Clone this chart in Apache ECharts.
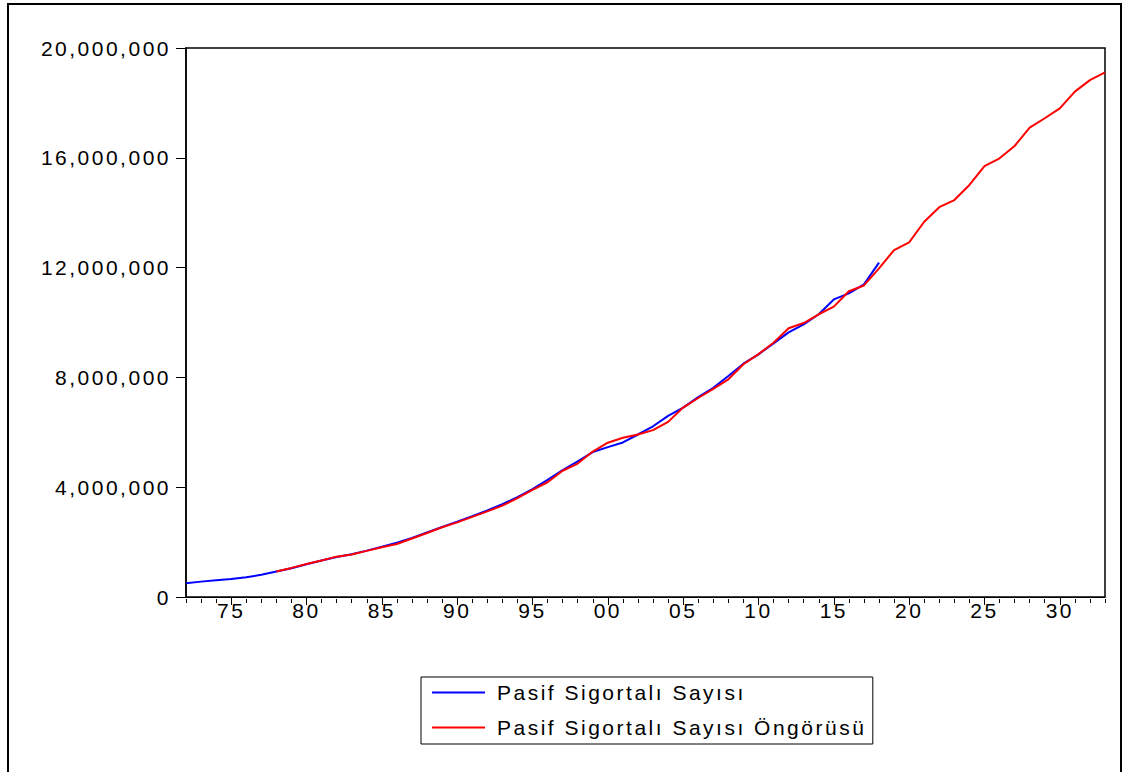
<!DOCTYPE html>
<html>
<head>
<meta charset="utf-8">
<script src="https://cdn.jsdelivr.net/npm/echarts@6/dist/echarts.min.js"></script>
<style>
html,body{margin:0;padding:0;background:#fff;}
#chart{width:1128px;height:772px;}
#chart svg text{letter-spacing:2.5px;}
</style>
</head>
<body>
<div id="chart"></div>
<script>
// Years on the x axis
const years = [];
for (let y = 1972; y <= 2033; y++) years.push(String(y));

// Pasif Sigortalı Sayısı (actual), 1972-2018
const actualStart = 1972;
const actualValues = [
  500000, 560000, 610000, 660000, 720000, 810000, 930000, 1050000, 1190000, 1330000,
  1460000, 1560000, 1690000, 1830000, 1980000, 2150000, 2350000, 2550000, 2740000, 2940000,
  3150000, 3380000, 3640000, 3930000, 4270000, 4620000, 4940000, 5280000, 5460000, 5630000,
  5920000, 6220000, 6600000, 6900000, 7280000, 7620000, 8050000, 8500000, 8840000, 9240000,
  9640000, 9930000, 10300000, 10840000, 11060000, 11390000, 12180000
];

// Pasif Sigortalı Sayısı Öngörüsü (forecast), 1978-2033
const forecastStart = 1978;
const forecastValues = [
  930000, 1060000, 1200000, 1330000, 1470000, 1550000, 1680000, 1810000, 1930000, 2130000,
  2330000, 2540000, 2720000, 2920000, 3120000, 3330000, 3600000, 3900000, 4180000, 4600000,
  4860000, 5300000, 5620000, 5800000, 5920000, 6080000, 6380000, 6900000, 7250000, 7580000,
  7930000, 8480000, 8850000, 9260000, 9790000, 9980000, 10300000, 10580000, 11140000, 11350000,
  11970000, 12640000, 12920000, 13670000, 14200000, 14460000, 15010000, 15700000, 15980000, 16430000,
  17100000, 17440000, 17800000, 18410000, 18830000, 19110000
];

const seriesNames = ['Pasif Sigortalı Sayısı', 'Pasif Sigortalı Sayısı Öngörüsü'];
const yTicks = [0, 4000000, 8000000, 12000000, 16000000, 20000000];

function pad(start, vals) {
  return years.map(y => {
    const i = Number(y) - start;
    return (i >= 0 && i < vals.length) ? vals[i] : null;
  });
}

const FONT = 'Liberation Sans';
const FS = 21;
const chart = echarts.init(document.getElementById('chart'), null, { renderer: 'svg' });
chart.setOption({
  animation: false,
  backgroundColor: '#ffffff',
  textStyle: { fontFamily: FONT },
  grid: {
    left: 186, top: 48, width: 919, height: 549,
    show: true, borderColor: '#000', borderWidth: 1.5, backgroundColor: 'transparent'
  },
  graphic: [{
    type: 'rect', silent: true, z: -1,
    shape: { x: 8, y: 4, width: 1113, height: 790 },
    style: { fill: 'none', stroke: '#000', lineWidth: 2 }
  }],
  xAxis: [{
    type: 'category', data: years, boundaryGap: false,
    offset: 2,
    axisLine: { show: true, lineStyle: { color: '#000', width: 1 } },
    axisTick: { show: true, inside: false, length: 8, interval: (i, v) => Number(v) % 5 === 0, lineStyle: { color: '#000' } },
    axisLabel: { show: true, interval: (i, v) => Number(v) % 5 === 0, formatter: v => v.slice(2), color: '#000', fontSize: FS, fontFamily: FONT, margin: 1 },
    splitLine: { show: false }
  }, {
    type: 'category', data: years, boundaryGap: false, position: 'bottom',
    offset: 2,
    axisLine: { show: false },
    axisTick: { show: true, inside: false, length: 4, interval: 0, lineStyle: { color: '#000' } },
    axisLabel: { show: false },
    splitLine: { show: false }
  }],
  yAxis: {
    type: 'value', min: 0, max: 20000000, interval: 4000000,
    axisLine: { show: true, lineStyle: { color: '#000', width: 1.5 } },
    axisTick: { show: true, inside: false, length: 10, lineStyle: { color: '#000' } },
    axisLabel: { color: '#000', fontSize: FS, fontFamily: FONT, margin: 15,
      formatter: v => yTicks.indexOf(v) >= 0 ? v.toLocaleString('en-US') : '' },
    splitLine: { show: false }
  },
  legend: {
    orient: 'vertical', left: 421, top: 677,
    data: seriesNames,
    icon: 'path://M0,0H100V4H0Z',
    backgroundColor: '#fff', borderColor: '#000', borderWidth: 1,
    padding: [5, 84, 6, 11],
    itemWidth: 53, itemHeight: 14, itemGap: 14,
    textStyle: { color: '#000', fontSize: FS, fontFamily: FONT, padding: [0, 0, 0, 7] }
  },
  series: [{
    name: seriesNames[0], type: 'line', xAxisIndex: 0,
    data: pad(actualStart, actualValues),
    symbol: 'none', showSymbol: false,
    lineStyle: { color: '#0000ff', width: 2 }, itemStyle: { color: '#0000ff' },
    z: 2
  }, {
    name: seriesNames[1], type: 'line', xAxisIndex: 0,
    data: pad(forecastStart, forecastValues),
    symbol: 'none', showSymbol: false,
    lineStyle: { color: '#ff0000', width: 2 }, itemStyle: { color: '#ff0000' },
    z: 3
  }]
});
</script>
</body>
</html>
